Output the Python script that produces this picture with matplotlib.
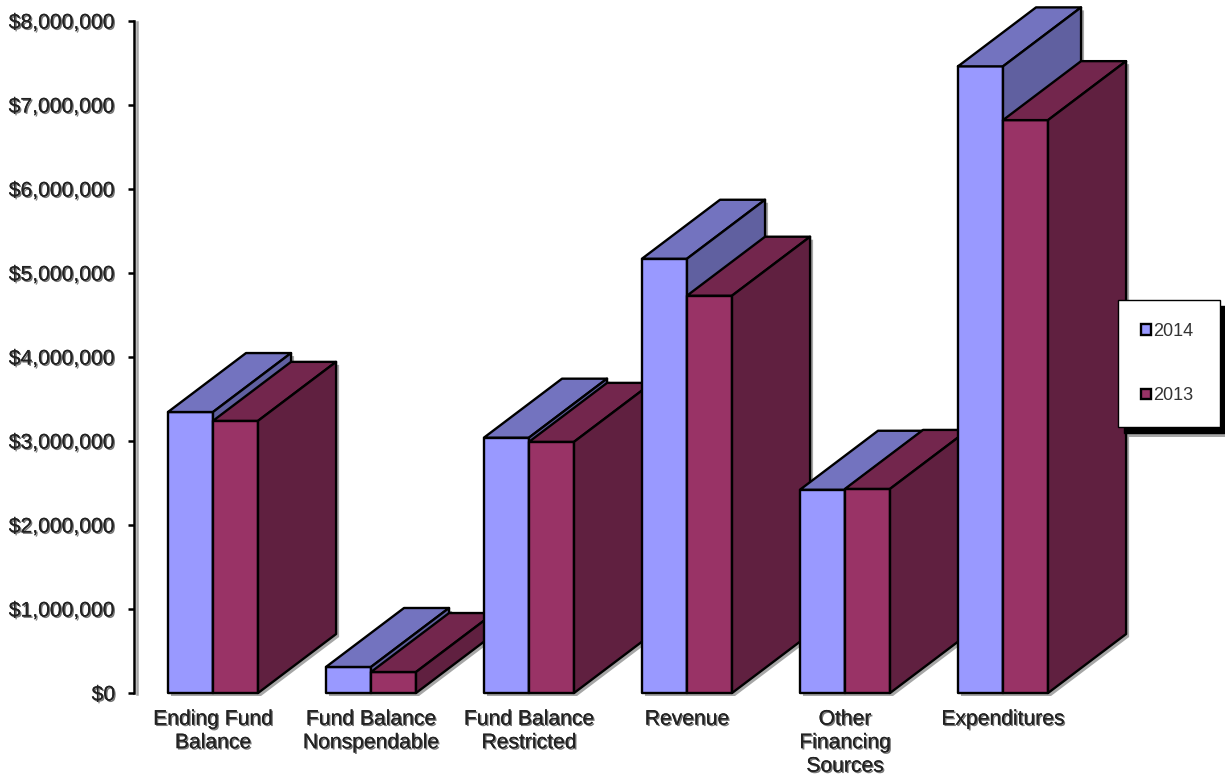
import matplotlib
matplotlib.use("Agg")
import matplotlib.pyplot as plt
import matplotlib.patheffects as pe
from matplotlib.patches import Patch, Polygon, Rectangle
from matplotlib.transforms import offset_copy

categories = ["Ending Fund\nBalance", "Fund Balance\nNonspendable", "Fund Balance\nRestricted",
              "Revenue", "Other\nFinancing\nSources", "Expenditures"]
values_2014 = [3345000, 310000, 3040000, 5170000, 2420000, 7460000]
values_2013 = [3240000, 250000, 2990000, 4730000, 2430000, 6820000]
y_ticks = [0, 1000000, 2000000, 3000000, 4000000, 5000000, 6000000, 7000000, 8000000]

color_2014 = ("#9999FF", "#7373BF", "#6060A0")
color_2013 = ("#993366", "#73264D", "#602040")
shadow_gray = "#A6A6A6"

bar_w = 0.285
depth_x = 0.494
depth_y = 702000

plt.rcParams["font.family"] = ["Liberation Sans", "DejaVu Sans"]

fig = plt.figure(figsize=(12.25, 7.78), dpi=100)
ax = fig.add_axes([134 / 1225, 85 / 778, 948 / 1225, 672 / 778])
ax.set_xlim(-0.5, 5.5)
ax.set_ylim(0, 8000000)

shadow_tf = offset_copy(ax.transData, fig=fig, x=3, y=-3, units="dots")


def draw_bar(x, val, colors):
    # 3d box: front face plus top and right side going back by the depth offset
    front = [(x, 0), (x + bar_w, 0), (x + bar_w, val), (x, val)]
    top = [(x, val), (x + bar_w, val), (x + bar_w + depth_x, val + depth_y), (x + depth_x, val + depth_y)]
    side = [(x + bar_w, 0), (x + bar_w + depth_x, depth_y), (x + bar_w + depth_x, val + depth_y), (x + bar_w, val)]
    outline = [(x, 0), (x + bar_w, 0), (x + bar_w + depth_x, depth_y), (x + bar_w + depth_x, val + depth_y),
               (x + depth_x, val + depth_y), (x, val)]
    ax.add_patch(Polygon(outline, closed=True, fc=shadow_gray, ec="none", transform=shadow_tf, clip_on=False))
    for poly, c in zip((front, top, side), colors):
        ax.add_patch(Polygon(poly, closed=True, fc=c, ec="black", lw=1.7, joinstyle="round", clip_on=False))


for i in range(len(categories)):
    draw_bar(i - bar_w, values_2014[i], color_2014)
    draw_bar(i, values_2013[i], color_2013)

text_fx = [pe.withSimplePatchShadow(offset=(1, -1), shadow_rgbFace="#555555", alpha=0.8), pe.Normal()]
line_fx = [pe.SimpleLineShadow(offset=(2, -1), shadow_color=shadow_gray, alpha=1), pe.Normal()]

for s in ["top", "right", "bottom"]:
    ax.spines[s].set_visible(False)
ax.spines["left"].set_linewidth(1.8)
ax.spines["left"].set_path_effects(line_fx)
ax.patch.set_visible(False)

ax.set_yticks(y_ticks)
ax.set_yticklabels(["${:,}".format(v) for v in y_ticks], fontsize=15.2, color="#222222", path_effects=text_fx)
ax.tick_params(axis="y", length=4.5, width=1.8, pad=9)
ax.set_xticks(range(len(categories)))
ax.set_xticklabels(categories, fontsize=15.2, color="#222222", linespacing=1.3, path_effects=text_fx)
ax.tick_params(axis="x", length=0, pad=12)

# gray strip under the legend's black shadow
fig.add_artist(Rectangle((1122 / 1225, (778 - 437) / 778), 103 / 1225, 12 / 778, fc=shadow_gray, ec="none",
                         transform=fig.transFigure, zorder=-1))
handles = [Patch(fc=color_2014[0], ec="black", lw=1.7, label="2014"),
           Patch(fc=color_2013[0], ec="black", lw=1.7, label="2013")]
leg = ax.legend(handles=handles, loc="upper left",
                bbox_to_anchor=(1118 / 1225, (778 - 427) / 778, 102 / 1225, 127 / 778),
                bbox_transform=fig.transFigure, mode="expand", prop={"size": 13}, frameon=True, fancybox=False,
                framealpha=1, edgecolor="black", borderpad=1.25, borderaxespad=0, labelspacing=2.65,
                handlelength=0.55, handleheight=0.55, handletextpad=0.15,
                shadow={"ox": 4, "oy": -4.3, "color": "black", "alpha": 1})
leg.get_frame().set_linewidth(1.0)
for t in leg.get_texts():
    t.set_color("#333333")

fig.savefig("out.png", dpi=100, facecolor="white")
